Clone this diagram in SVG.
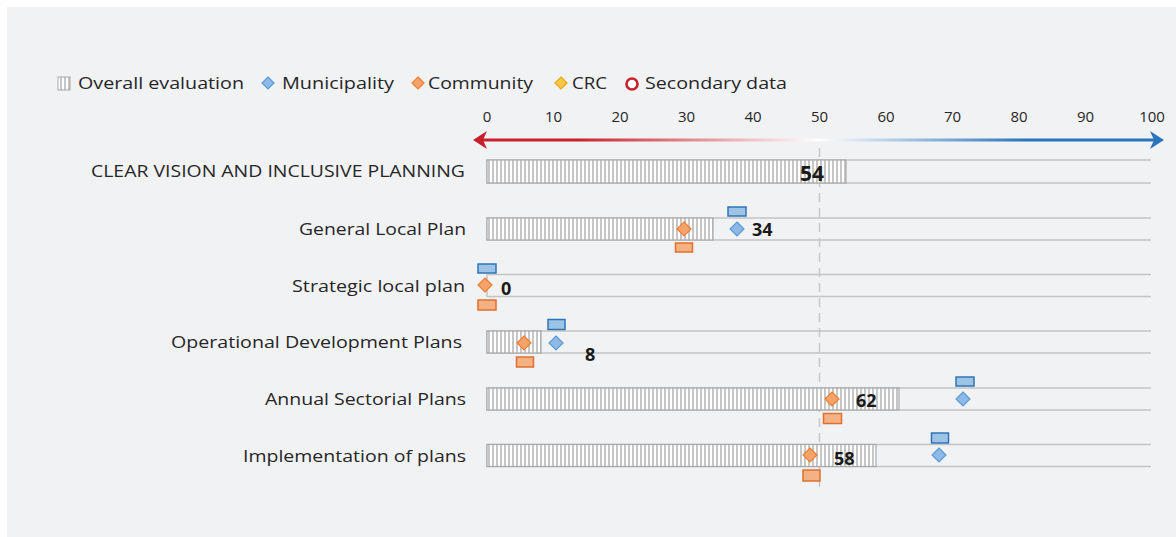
<svg xmlns="http://www.w3.org/2000/svg" width="1176" height="537" viewBox="0 0 1176 537">
<style>
.lbl{font-family:"Open Sans","Noto Sans",sans-serif;font-size:16.5px;fill:#262626;text-anchor:end}
.leg{font-family:"Open Sans","Noto Sans",sans-serif;font-size:17px;fill:#262626}
.tick{font-family:"Open Sans","Noto Sans",sans-serif;font-size:15px;fill:#262626;text-anchor:middle}
.val{font-family:"Open Sans","Noto Sans",sans-serif;font-size:18px;font-weight:bold;fill:#1a1a1a}
.row{fill:none;stroke:#c4c4c4;stroke-width:1.5}
.bar{fill:url(#hatch);stroke:#a8a8a8;stroke-width:1.2}
.dm{fill:#8eb8e5;stroke:#5b9bd5;stroke-width:1.2}
.dc{fill:#f4a46a;stroke:#ed7d31;stroke-width:1.2}
.rm{fill:#9dc3e6;stroke:#2e75b6;stroke-width:1.5}
.rc{fill:#f4b183;stroke:#e0702c;stroke-width:1.5}
</style>
<defs>
<pattern id="hatch" patternUnits="userSpaceOnUse" width="4" height="4">
<rect width="4" height="4" fill="#ffffff"/>
<rect width="2" height="4" fill="#c6c6c6"/>
</pattern>
<linearGradient id="axg" x1="473" y1="0" x2="1163" y2="0" gradientUnits="userSpaceOnUse">
<stop offset="0" stop-color="#c8202a"/>
<stop offset="0.15" stop-color="#c8202a"/>
<stop offset="0.5" stop-color="#ffffff"/>
<stop offset="0.8" stop-color="#2a75bb"/>
<stop offset="1" stop-color="#2a75bb"/>
</linearGradient>
</defs>
<rect x="0" y="0" width="1176" height="537" fill="#ffffff"/>
<rect x="7" y="7" width="1169" height="530" fill="#f1f2f4"/>

<g id="legend">
<rect x="58" y="77" width="12" height="13" fill="url(#hatch)" stroke="#a8a8a8"/>
<text class="leg" x="78" y="89" textLength="166" lengthAdjust="spacingAndGlyphs">Overall evaluation</text>
<path class="dm" d="M268,77 L274,83 L268,89 L262,83 Z"/>
<text class="leg" x="282" y="89" textLength="112" lengthAdjust="spacingAndGlyphs">Municipality</text>
<path class="dc" d="M418,77 L424,83 L418,89 L412,83 Z"/>
<text class="leg" x="428" y="89" textLength="105" lengthAdjust="spacingAndGlyphs">Community</text>
<path d="M561,77 L567,83 L561,89 L555,83 Z" fill="#fdc745" stroke="#e6a817" stroke-width="1.2"/>
<text class="leg" x="572" y="89" textLength="35" lengthAdjust="spacingAndGlyphs">CRC</text>
<circle cx="632" cy="84" r="5.5" fill="#ffffff" stroke="#c8202a" stroke-width="2.6"/>
<text class="leg" x="645" y="89" textLength="142" lengthAdjust="spacingAndGlyphs">Secondary data</text>
</g>

<g id="axis">
<text class="tick" x="487" y="122">0</text>
<text class="tick" x="553.5" y="122">10</text>
<text class="tick" x="620" y="122">20</text>
<text class="tick" x="686.5" y="122">30</text>
<text class="tick" x="753" y="122">40</text>
<text class="tick" x="819.5" y="122">50</text>
<text class="tick" x="886" y="122">60</text>
<text class="tick" x="952.5" y="122">70</text>
<text class="tick" x="1019" y="122">80</text>
<text class="tick" x="1085.5" y="122">90</text>
<text class="tick" x="1152" y="122">100</text>
<rect x="480" y="138.5" width="674" height="3" fill="url(#axg)"/>
<path d="M473,140 L487,131 L483,140 L487,149 Z" fill="#c8202a"/>
<path d="M1164,140 L1150,131 L1154,140 L1150,149 Z" fill="#2a75bb"/>
</g>

<g id="connectors">
<line x1="819.5" y1="148" x2="819.5" y2="492" stroke="#c8c8c8" stroke-width="1.5" stroke-dasharray="9,6"/>
</g>

<g id="row1">
<text class="lbl" x="465" y="177" textLength="374" lengthAdjust="spacingAndGlyphs">CLEAR VISION AND INCLUSIVE PLANNING</text>
<path class="row" d="M1151,160 H487 V183 H1151"/>
<rect class="bar" x="487" y="160" width="359" height="23"/>
<text class="val" x="800" y="181" style="font-size:21px">54</text>
</g>

<g id="row2">
<text class="lbl" x="466" y="235" textLength="167" lengthAdjust="spacingAndGlyphs">General Local Plan</text>
<path class="row" d="M1151,218 H487 V240 H1151"/>
<rect class="bar" x="487" y="218" width="226" height="22"/>
<path class="dc" d="M684,222 L691,229 L684,236 L677,229 Z"/>
<path class="dm" d="M737,222 L744,229 L737,236 L730,229 Z"/>
<rect class="rm" x="728" y="207" width="18" height="9"/>
<rect class="rc" x="675.5" y="243" width="17" height="9"/>
<text class="val" x="752" y="236">34</text>
</g>

<g id="row3">
<text class="lbl" x="465" y="292" textLength="173" lengthAdjust="spacingAndGlyphs">Strategic local plan</text>
<path class="row" d="M1151,274.5 H487 V296.5 H1151"/>
<path class="dc" d="M485,278 L492,285 L485,292 L478,285 Z"/>
<rect class="rm" x="478" y="264" width="18" height="9"/>
<rect class="rc" x="478" y="300" width="18" height="10"/>
<text class="val" x="501" y="295">0</text>
</g>

<g id="row4">
<text class="lbl" x="462" y="348" textLength="291" lengthAdjust="spacingAndGlyphs">Operational Development Plans</text>
<path class="row" d="M1151,331 H487 V353 H1151"/>
<rect class="bar" x="487" y="331" width="54" height="22"/>
<path class="dc" d="M524,336 L531,343 L524,350 L517,343 Z"/>
<path class="dm" d="M556,336 L563,343 L556,350 L549,343 Z"/>
<rect class="rm" x="548" y="319.5" width="17" height="10"/>
<rect class="rc" x="516.5" y="357" width="17" height="10"/>
<text class="val" x="585" y="361">8</text>
</g>

<g id="row5">
<text class="lbl" x="466" y="405" textLength="201" lengthAdjust="spacingAndGlyphs">Annual Sectorial Plans</text>
<path class="row" d="M1151,388 H487 V410 H1151"/>
<rect class="bar" x="487" y="388" width="412" height="22"/>
<path class="dc" d="M832,392 L839,399 L832,406 L825,399 Z"/>
<path class="dm" d="M963,392 L970,399 L963,406 L956,399 Z"/>
<rect class="rm" x="956" y="377" width="18" height="9"/>
<rect class="rc" x="823.5" y="413.5" width="18" height="10"/>
<text class="val" x="856" y="407">62</text>
</g>

<g id="row6">
<text class="lbl" x="466" y="462" textLength="223" lengthAdjust="spacingAndGlyphs">Implementation of plans</text>
<path class="row" d="M1151,444.5 H487 V466.5 H1151"/>
<rect class="bar" x="487" y="444.5" width="389" height="22"/>
<path class="dc" d="M810,448 L817,455 L810,462 L803,455 Z"/>
<path class="dm" d="M939,448 L946,455 L939,462 L932,455 Z"/>
<rect class="rm" x="931.5" y="433" width="17" height="10"/>
<rect class="rc" x="803" y="470" width="17" height="11"/>
<text class="val" x="834" y="465">58</text>
</g>
</svg>
